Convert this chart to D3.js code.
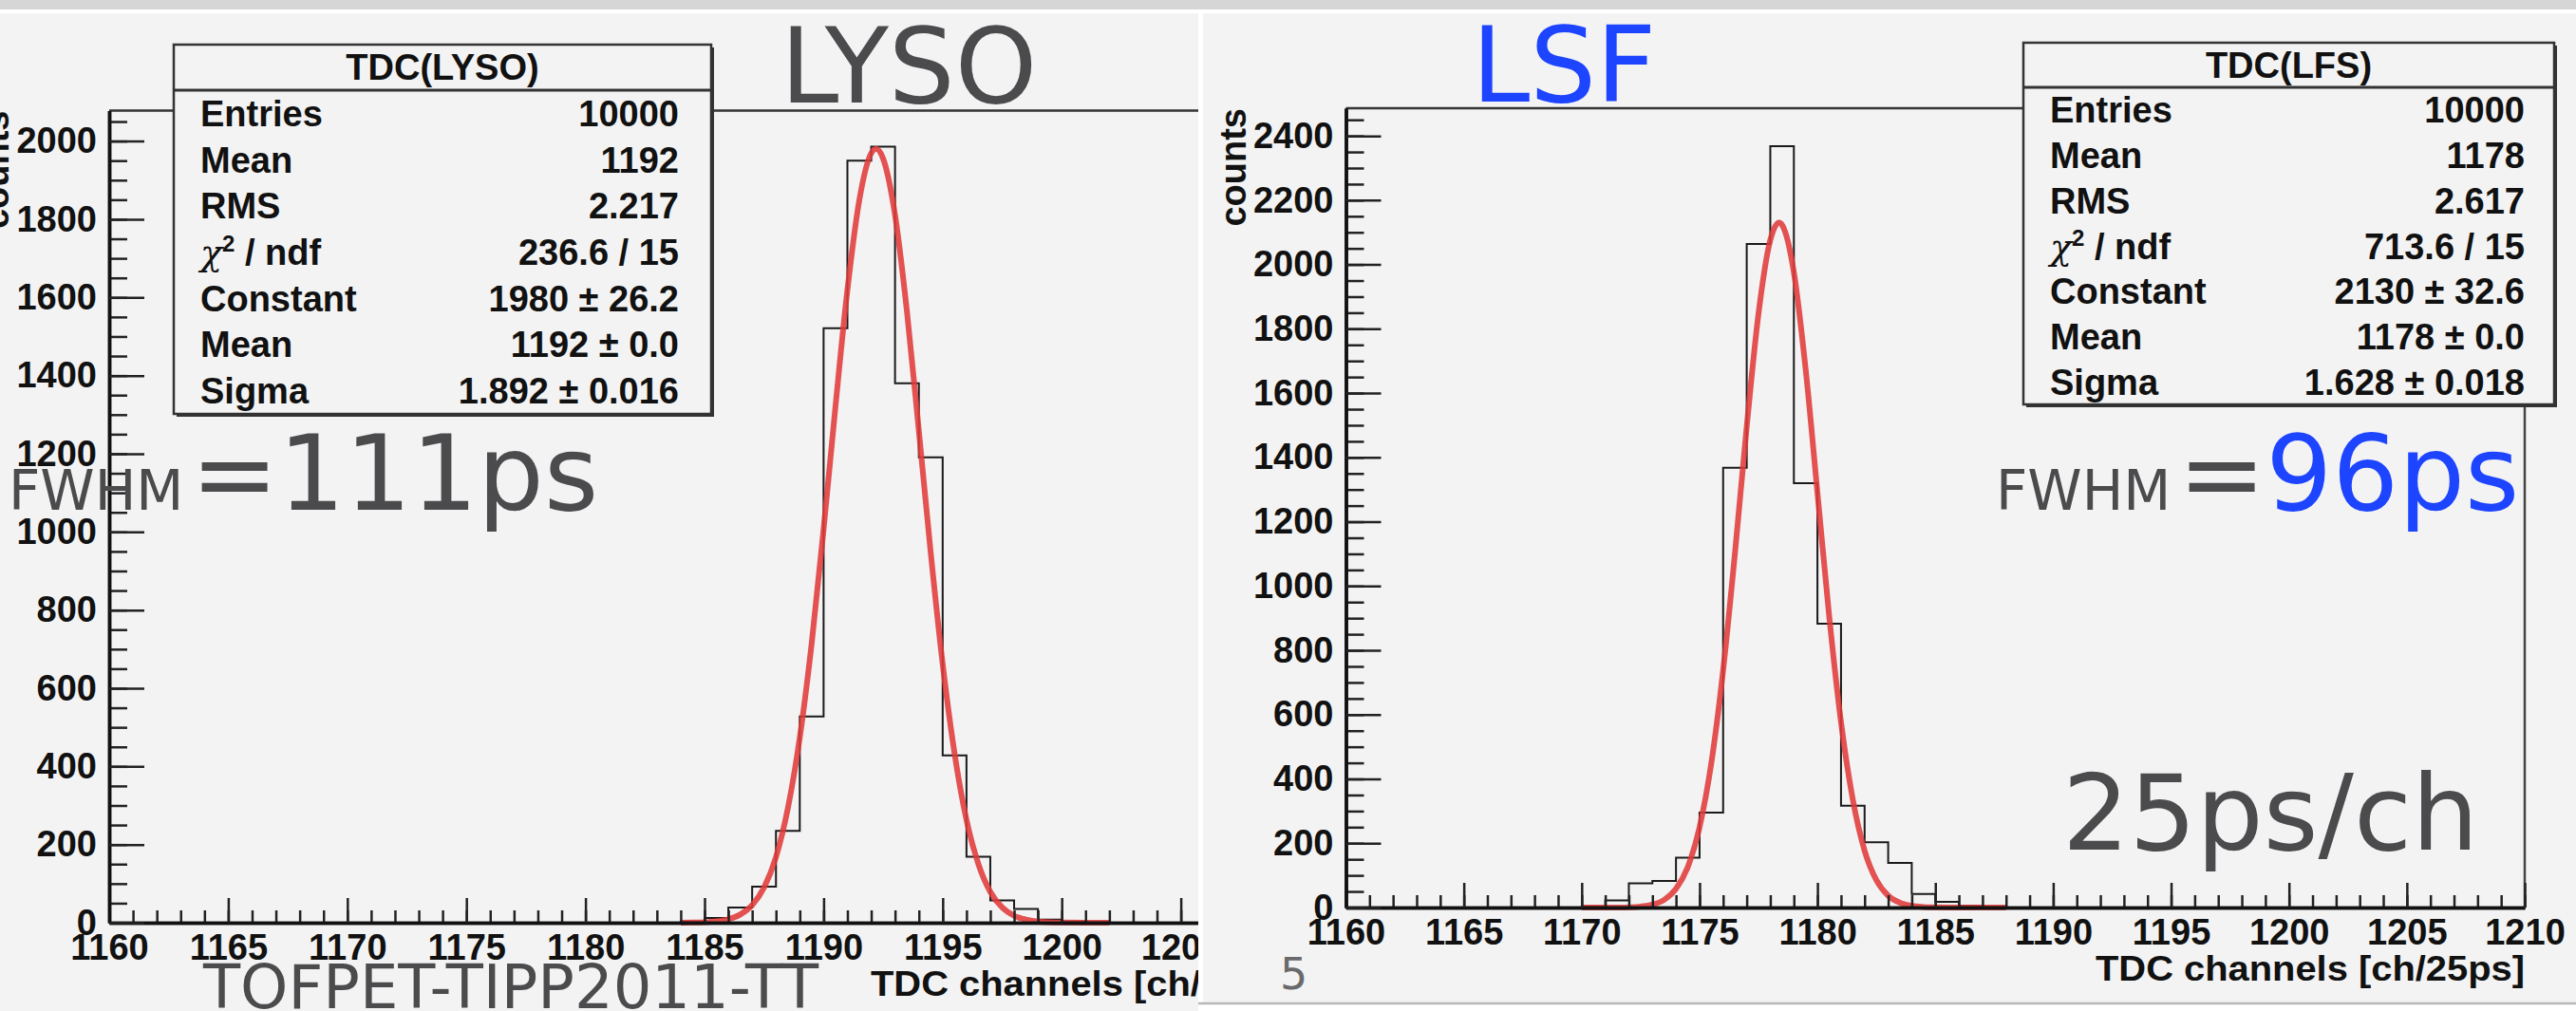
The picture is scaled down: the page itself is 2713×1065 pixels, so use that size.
<!DOCTYPE html>
<html><head><meta charset="utf-8">
<script src="https://cdn.jsdelivr.net/npm/d3@7"></script>
<style>
html,body{margin:0;padding:0;background:#f3f3f3;overflow:hidden}
svg{display:block}
</style></head><body>
<script>
// ---------------- data ----------------
const channelDomain = [1160, 1210];
const xTickValues = [1160, 1165, 1170, 1175, 1180, 1185, 1190, 1195, 1200, 1205, 1210];

const lysoYMax = 2078;
const lysoYTicks = [0, 200, 400, 600, 800, 1000, 1200, 1400, 1600, 1800, 2000];
const lysoBins   = [1184, 1185, 1186, 1187, 1188, 1189, 1190, 1191, 1192, 1193, 1194, 1195, 1196, 1197, 1198, 1199, 1200, 1201];
const lysoCounts = [3, 12, 39, 92, 235, 528, 1521, 1950, 1986, 1380, 1191, 428, 169, 57, 35, 8, 3, 1];
const lysoFitX = [1184, 1184.5, 1185, 1185.5, 1186, 1186.5, 1187, 1187.5, 1188, 1188.5, 1189, 1189.5, 1190, 1190.5, 1191, 1191.5, 1192, 1192.2, 1192.5, 1193, 1193.5, 1194, 1194.5, 1195, 1195.5, 1196, 1196.5, 1197, 1197.5, 1198, 1198.5, 1199, 1200, 1201, 1202];
const lysoFitY = [0.2, 0.5, 1.4, 3.7, 9, 21, 45, 90, 168, 293, 474, 715, 1007, 1322, 1619, 1849, 1969, 1980, 1955, 1811, 1564, 1259, 946, 662, 433, 263, 150, 79, 39, 18, 8, 3, 0.4, 0, 0];

const lsfYMax = 2486;
const lsfYTicks = [0, 200, 400, 600, 800, 1000, 1200, 1400, 1600, 1800, 2000, 2200, 2400];
const lsfBins   = [1170, 1171, 1172, 1173, 1174, 1175, 1176, 1177, 1178, 1179, 1180, 1181, 1182, 1183, 1184, 1185, 1186, 1187];
const lsfCounts = [3, 22, 75, 83, 155, 295, 1368, 2064, 2368, 1320, 883, 317, 203, 139, 42, 18, 6, 2];
const lsfFitX = [1170, 1170.5, 1171, 1171.5, 1172, 1172.5, 1173, 1173.5, 1174, 1174.5, 1175, 1175.5, 1176, 1176.5, 1177, 1177.5, 1178, 1178.37, 1178.5, 1179, 1179.5, 1180, 1180.5, 1181, 1181.5, 1182, 1182.5, 1183, 1183.5, 1184, 1184.5, 1185, 1186, 1187, 1188];
const lsfFitY = [0, 0, 0.1, 0.3, 1, 3.2, 9, 24, 58, 126, 250, 450, 738, 1101, 1495, 1847, 2076, 2130, 2123, 1976, 1674, 1290, 905, 577, 336, 177, 85, 37, 15, 5.4, 1.8, 0.5, 0, 0, 0];

const statLabels = ["Entries", "Mean", "RMS", "χ2 / ndf", "Constant", "Mean", "Sigma"];
const lysoStatTitle = "TDC(LYSO)";
const lysoStatValues = ["10000", "1192", "2.217", "236.6 / 15", "1980 ± 26.2", "1192 ± 0.0", "1.892 ± 0.016"];
const lsfStatTitle = "TDC(LFS)";
const lsfStatValues = ["10000", "1178", "2.617", "713.6 / 15", "2130 ± 32.6", "1178 ± 0.0", "1.628 ± 0.018"];

const yTitle = "counts";
const xTitle = "TDC channels [ch/25ps]";

// ---------------- drawing ----------------
const W = 2713, H = 1065;
const BG = "#f3f3f3", GREY = "#4b4b4d", BLUE = "#1d44ff";
const BOLD = "'Liberation Sans', Arial, sans-serif";
const BIG = "'DejaVu Sans', sans-serif";

const svg = d3.select("body").append("svg").attr("width", W).attr("height", H);
svg.append("rect").attr("width", W).attr("height", H).attr("fill", BG);
svg.append("rect").attr("width", W).attr("height", 10).attr("fill", "#d6d6d6");
svg.append("rect").attr("y", 10).attr("width", W).attr("height", 4).attr("fill", "#ffffff");

const defs = svg.append("defs");
defs.append("clipPath").attr("id", "clipL").append("rect").attr("x", 0).attr("y", 0).attr("width", 1262).attr("height", H);

function drawPanel(g, o) {
  const x = d3.scaleLinear().domain(channelDomain).range(o.xRange);
  const y = d3.scaleLinear().domain([0, o.yMax]).range(o.yRange);

  // frame
  g.append("line").attr("x1", x(channelDomain[0])).attr("x2", x(channelDomain[1]))
    .attr("y1", y(o.yMax)).attr("y2", y(o.yMax)).attr("stroke", "#333").attr("stroke-width", 2.5);
  g.append("line").attr("x1", x(channelDomain[1])).attr("x2", x(channelDomain[1]))
    .attr("y1", y(o.yMax)).attr("y2", y(0)).attr("stroke", "#444").attr("stroke-width", 2.5);

  // histogram
  const pts = o.bins.map((b, i) => [b, o.counts[i]]);
  pts.unshift([o.bins[0], 0]);
  pts.push([o.bins[o.bins.length - 1] + 1, 0]);
  g.append("path").attr("d", d3.line().x(d => x(d[0])).y(d => y(d[1])).curve(d3.curveStepAfter)(pts))
    .attr("fill", "none").attr("stroke", "#1a1a1a").attr("stroke-width", 2);

  // fit
  const fp = o.fitX.map((v, i) => [v, o.fitY[i]]);
  g.append("path").attr("d", d3.line().x(d => x(d[0])).y(d => y(d[1])).curve(d3.curveMonotoneX)(fp))
    .attr("fill", "none").attr("stroke", "#e03a3a").attr("stroke-opacity", 0.88).attr("stroke-width", 6);

  const styleAxis = (ax) => {
    ax.attr("font-size", 38).attr("font-family", BOLD).attr("font-weight", "bold");
    ax.selectAll(".tick text").attr("fill", "#111");
    ax.selectAll(".tick line").attr("stroke", "#222").attr("stroke-width", 2.5);
    ax.select(".domain").attr("stroke", "#111").attr("stroke-width", 3.5);
  };
  // x minor
  const xMin = g.append("g").attr("transform", `translate(0,${y(0)})`)
    .call(d3.axisBottom(x).tickValues(d3.range(channelDomain[0], channelDomain[1] + 1)).tickSize(-13).tickSizeOuter(0).tickFormat(""));
  styleAxis(xMin);
  xMin.selectAll("text").remove();
  const xMaj = g.append("g").attr("transform", `translate(0,${y(0)})`)
    .call(d3.axisBottom(x).tickValues(xTickValues).tickSize(-26).tickSizeOuter(0).tickPadding(12).tickFormat(d3.format("d")));
  styleAxis(xMaj);
  // y minor
  const yMin = g.append("g").attr("transform", `translate(${x(channelDomain[0])},0)`)
    .call(d3.axisLeft(y).tickValues(d3.range(0, o.yMax, 50)).tickSize(-19).tickSizeOuter(0).tickFormat(""));
  styleAxis(yMin);
  yMin.selectAll("text").remove();
  const yMaj = g.append("g").attr("transform", `translate(${x(channelDomain[0])},0)`)
    .call(d3.axisLeft(y).tickValues(o.yTicks).tickSize(-37).tickSizeOuter(0).tickPadding(13).tickFormat(d3.format("d")));
  styleAxis(yMaj);

  // axis titles
  g.append("text").attr("transform", `translate(${x(channelDomain[0]) - 106},${y(o.yMax)}) rotate(-90)`)
    .attr("text-anchor", "end").attr("font-family", BOLD).attr("font-weight", "bold").attr("font-size", 38)
    .attr("fill", "#111").text(yTitle);
  g.append("text").attr("x", x(channelDomain[1])).attr("y", y(0) + 77)
    .attr("text-anchor", "end").attr("font-family", BOLD).attr("font-weight", "bold").attr("font-size", 36)
    .attr("textLength", 452).attr("lengthAdjust", "spacingAndGlyphs")
    .attr("fill", "#111").text(xTitle);
}

function drawStats(g, o) {
  const b = o.box; // [x0,y0,x1,y1,sep]
  g.append("rect").attr("x", b[0] + 3).attr("y", b[1] + 3).attr("width", b[2] - b[0]).attr("height", b[3] - b[1]).attr("fill", "#333");
  g.append("rect").attr("x", b[0]).attr("y", b[1]).attr("width", b[2] - b[0]).attr("height", b[3] - b[1])
    .attr("fill", BG).attr("stroke", "#333").attr("stroke-width", 2.5);
  g.append("line").attr("x1", b[0]).attr("x2", b[2]).attr("y1", b[4]).attr("y2", b[4]).attr("stroke", "#333").attr("stroke-width", 3);
  const f = (t) => t.attr("font-family", BOLD).attr("font-weight", "bold").attr("font-size", 38).attr("fill", "#111");
  f(g.append("text").attr("x", (b[0] + b[2]) / 2).attr("y", (b[1] + b[4]) / 2 + 13).attr("text-anchor", "middle").text(o.title));
  const rh = (b[3] - b[4]) / statLabels.length;
  statLabels.forEach((lab, i) => {
    const yy = b[4] + rh * (i + 0.5) + 13.5;
    const t = f(g.append("text").attr("x", b[0] + 28).attr("y", yy));
    if (lab.startsWith("χ2")) {
      t.append("tspan").attr("font-weight", "normal").attr("font-family", "'DejaVu Serif', serif").attr("font-style", "italic").text("χ");
      t.append("tspan").attr("font-size", 24).attr("dy", -14).text("2");
      t.append("tspan").attr("dy", 14).text(lab.slice(2));
    } else t.text(lab);
    f(g.append("text").attr("x", b[2] - o.valPad).attr("y", yy).attr("text-anchor", "end").text(o.values[i]));
  });
}

// ---- left panel (LYSO), clipped by the page crop ----
const gL = svg.append("g").attr("clip-path", "url(#clipL)");
drawPanel(gL, { xRange: [115, 1369], yRange: [972, 116.5], yMax: lysoYMax, yTicks: lysoYTicks,
  bins: lysoBins, counts: lysoCounts, fitX: lysoFitX, fitY: lysoFitY });
drawStats(gL, { box: [183, 47, 749, 436, 95], title: lysoStatTitle, values: lysoStatValues, valPad: 34 });

// separator strips
svg.append("rect").attr("x", 1262).attr("y", 14).attr("width", 5).attr("height", 1043).attr("fill", "#ffffff");
svg.append("rect").attr("x", 1262).attr("y", 1057).attr("width", W - 1262).attr("height", 8).attr("fill", "#ffffff");
svg.append("line").attr("x1", 1262).attr("x2", W).attr("y1", 1057).attr("y2", 1057).attr("stroke", "#b8b8b8").attr("stroke-width", 2.5);

// ---- right panel (LSF) ----
const gR = svg.append("g");
drawPanel(gR, { xRange: [1417.5, 2659], yRange: [956, 114], yMax: lsfYMax, yTicks: lsfYTicks,
  bins: lsfBins, counts: lsfCounts, fitX: lsfFitX, fitY: lsfFitY });
drawStats(gR, { box: [2131, 45, 2690, 426, 92], title: lsfStatTitle, values: lsfStatValues, valPad: 31 });

// ---- slide annotations ----
const big = (x, y, size, col, txt) => svg.append("text").attr("x", x).attr("y", y).attr("font-family", BIG)
  .attr("font-size", size).attr("fill", col).text(txt);
big(822, 108, 110, GREY, "LYSO");
big(1550, 107, 110, BLUE, "LSF");
big(9, 537, 58, GREY, "FWHM");
big(201, 537, 110, GREY, "=111ps");
big(2102, 537, 58, GREY, "FWHM");
const t96 = svg.append("text").attr("x", 2294).attr("y", 537).attr("font-family", BIG).attr("font-size", 110);
t96.append("tspan").attr("fill", GREY).text("=");
t96.append("tspan").attr("fill", BLUE).text("96ps");
big(2172, 895, 111, GREY, "25ps/ch");
big(214, 1062, 64, GREY, "TOFPET-TIPP2011-TT");
big(1348, 1042, 46, "#6a6a6a", "5");
</script>
</body></html>
